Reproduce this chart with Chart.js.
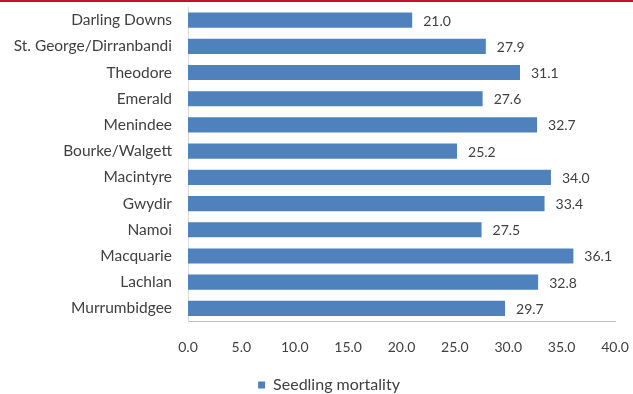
<!DOCTYPE html>
<html>
<head>
<meta charset="utf-8">
<script src="https://cdn.jsdelivr.net/npm/chart.js@4/dist/chart.umd.min.js"></script>
<style>
  html, body { margin: 0; padding: 0; background: #ffffff; }
  #wrap { position: relative; width: 633px; height: 394px; }
  #topRule { position: absolute; left: 0; top: 0; width: 633px; height: 2px; background: #c8102e; }
  canvas { display: block; }
</style>
</head>
<body>
<div id="wrap">
  <canvas id="chart" width="633" height="394"></canvas>
  <div id="topRule"></div>
</div>
<script>
// Seedling mortality (%) by cotton-growing region
const regions = [
  'Darling Downs', 'St. George/Dirranbandi', 'Theodore', 'Emerald', 'Menindee',
  'Bourke/Walgett', 'Macintyre', 'Gwydir', 'Namoi', 'Macquarie', 'Lachlan', 'Murrumbidgee'
];
const mortality = [21.0, 27.9, 31.1, 27.6, 32.7, 25.2, 34.0, 33.4, 27.5, 36.1, 32.8, 29.7];
const seriesName = 'Seedling mortality';
const xTicks = [0, 5, 10, 15, 20, 25, 30, 35, 40];

const FONT = 'Lato, "Liberation Sans", sans-serif';
const TEXT = '#404040';

// Writes each bar's value just past its end, using the value scale
const valueLabels = {
  id: 'valueLabels',
  afterDatasetsDraw(chart) {
    const ctx = chart.ctx;
    const xs = chart.scales.x;
    const ys = chart.scales.y;
    ctx.save();
    ctx.font = '14px ' + FONT;
    ctx.fillStyle = TEXT;
    ctx.textAlign = 'left';
    ctx.textBaseline = 'middle';
    mortality.forEach((v, i) => {
      ctx.fillText(v.toFixed(1), xs.getPixelForValue(v) + 11, ys.getPixelForValue(i) + 1);
    });
    ctx.restore();
  }
};

// Moves the legend under the centre of the plot and a little lower
const legendNudge = {
  id: 'legendNudge',
  afterLayout(chart) {
    const lg = chart.legend;
    if (!lg) return;
    const dx = 21.5, dy = 9;
    lg.left += dx; lg.right += dx;
    lg.top += dy; lg.bottom += dy;
  }
};

// Keep the plot area exactly where the layout padding puts it
function noScalePadding(axis) {
  axis.paddingTop = 0; axis.paddingBottom = 0;
  axis.paddingLeft = 0; axis.paddingRight = 0;
}

new Chart(document.getElementById('chart'), {
  type: 'bar',
  data: {
    labels: regions,
    datasets: [{
      label: seriesName,
      data: mortality,
      backgroundColor: '#4f81bd',
      borderWidth: 0,
      barPercentage: 0.58,
      categoryPercentage: 1.0
    }]
  },
  options: {
    indexAxis: 'y',
    responsive: false,
    animation: false,
    layout: { padding: { left: 0, right: 18, top: 7, bottom: 0 } },
    scales: {
      x: {
        min: 0, max: 40,
        afterBuildTicks(axis) { axis.ticks = xTicks.map(v => ({ value: v })); },
        grid: { display: false, drawTicks: false },
        border: { display: true, color: '#c0c0c0', width: 1 },
        ticks: {
          padding: 18,
          color: TEXT,
          font: { family: FONT, size: 14 },
          callback: v => Number(v).toFixed(1)
        },
        afterFit(axis) { axis.height = 38.5; noScalePadding(axis); }
      },
      y: {
        grid: { display: false, drawTicks: false },
        border: { display: true, color: '#d9d9d9', width: 1 },
        ticks: {
          padding: 16,
          color: TEXT,
          font: { family: FONT, size: 15.5 },
          autoSkip: false
        },
        afterFit(axis) { axis.width = 188; noScalePadding(axis); }
      }
    },
    plugins: {
      legend: {
        position: 'bottom',
        labels: {
          boxWidth: 7,
          boxHeight: 7,
          padding: 8,
          color: TEXT,
          font: { family: FONT, size: 16 }
        }
      },
      tooltip: { enabled: false }
    }
  },
  plugins: [valueLabels, legendNudge]
});
</script>
</body>
</html>
